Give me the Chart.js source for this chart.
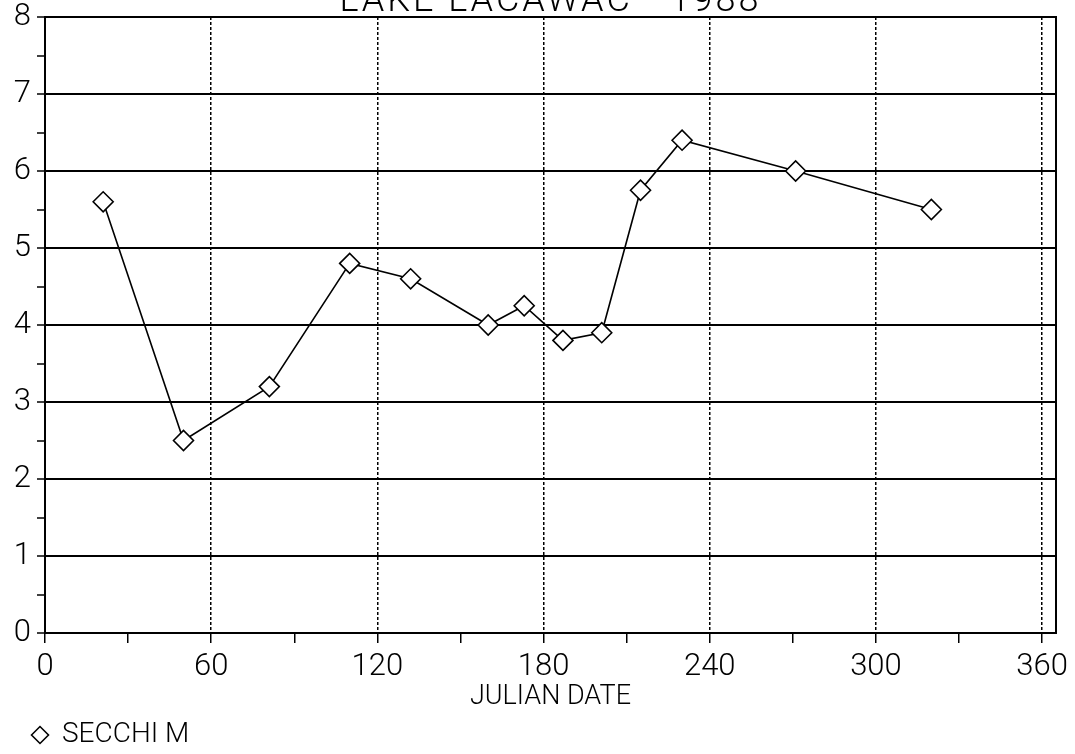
<!DOCTYPE html>
<html>
<head>
<meta charset="utf-8">
<script src="https://cdn.jsdelivr.net/npm/chart.js@4"></script>
<style>
  html, body { margin: 0; padding: 0; background: #fff; }
  #wrap { width: 1075px; height: 754px; }
</style>
</head>
<body>
<div id="wrap"><canvas id="secchiChart" width="1075" height="754"></canvas></div>
<script>
// datos
const chartTitle = 'LAKE LACAWAC - 1988';
const julianDays = [21, 50, 81, 110, 132, 160, 173, 187, 201, 215, 230, 271, 320];
const secchiM = [5.6, 2.5, 3.2, 4.8, 4.6, 4.0, 4.25, 3.8, 3.9, 5.75, 6.4, 6.0, 5.5];
const seriesLabel = 'SECCHI M';
const xAxisLabel = 'JULIAN DATE';

const fontFamily = 'Roboto, "Liberation Sans", Arial, sans-serif';
const fontWeight = 300;
const bottomShift = -5; // la leyenda queda un poco más abajo

// título cortado arriba y marco del área
const framePlugin = {
    id: 'frame',
    beforeDatasetsDraw(chart) {
        const { ctx, chartArea } = chart;
        ctx.save();
        ctx.strokeStyle = '#000';
        ctx.lineWidth = 2;
        ctx.strokeRect(chartArea.left, chartArea.top, chartArea.right - chartArea.left, chartArea.bottom - chartArea.top);
        ctx.restore();
    },
    afterDraw(chart) {
        const { ctx, chartArea } = chart;
        ctx.save();
        ctx.fillStyle = '#000';
        ctx.font = fontWeight + ' 36px ' + fontFamily;
        ctx.letterSpacing = '3px';
        ctx.textAlign = 'center';
        ctx.textBaseline = 'alphabetic';
        ctx.fillText(chartTitle, (chartArea.left + chartArea.right) / 2, 11);
        ctx.restore();
    }
};

const ctx = document.getElementById('secchiChart').getContext('2d');
new Chart(ctx, {
    type: 'line',
    data: {
        datasets: [{
            label: seriesLabel,
            data: julianDays.map((d, i) => ({ x: d, y: secchiM[i] })),
            borderColor: '#000',
            borderWidth: 1.6,
            backgroundColor: '#fff',
            pointStyle: 'rectRot',
            pointRadius: 10,
            pointBorderWidth: 1.6,
            pointBackgroundColor: '#fff',
            pointBorderColor: '#000',
            tension: 0
        }]
    },
    options: {
        responsive: false,
        animation: false,
        layout: { padding: { top: 17, right: 19, left: 0, bottom: bottomShift } },
        plugins: {
            legend: {
                display: true,
                position: 'bottom',
                align: 'start',
                labels: {
                    usePointStyle: true,
                    boxHeight: 12,
                    boxWidth: 16,
                    padding: 32,
                    color: '#000',
                    font: { family: fontFamily, size: 28, weight: fontWeight }
                }
            },
            tooltip: { enabled: false }
        },
        scales: {
            x: {
                type: 'linear',
                min: 0,
                max: 365,
                border: { display: true, color: '#000', width: 2, dash: [3, 2] },
                grid: {
                    color: c => (c.tick && c.tick.value % 60 === 0 && c.tick.value > 0) ? '#000' : 'transparent',
                    tickColor: '#000',
                    lineWidth: 1.5,
                    tickLength: 10,
                    tickWidth: 1.5
                },
                ticks: {
                    stepSize: 30,
                    includeBounds: false,
                    autoSkip: false,
                    maxRotation: 0,
                    padding: 6,
                    color: '#000',
                    font: { family: fontFamily, size: 31, weight: fontWeight },
                    callback: v => (v % 60 === 0 ? String(v) : '')
                },
                title: {
                    display: true,
                    text: xAxisLabel,
                    color: '#000',
                    font: { family: fontFamily, size: 27, weight: fontWeight },
                    padding: { top: 0, bottom: -29 - bottomShift }
                },
                afterFit(s) {
                    const legendH = s.chart.legend ? s.chart.legend.height : 0;
                    s.height = 754 - bottomShift - 633 - legendH;
                    s.paddingLeft = 0;
                    s.paddingRight = 0;
                }
            },
            y: {
                type: 'linear',
                min: 0,
                max: 8,
                border: { display: true, color: '#000', width: 2 },
                grid: {
                    color: c => (c.tick && c.tick.value % 1 === 0) ? '#000' : 'transparent',
                    tickColor: '#000',
                    lineWidth: 2,
                    tickLength: 8,
                    tickWidth: 1.5
                },
                ticks: {
                    stepSize: 0.5,
                    autoSkip: false,
                    padding: 6,
                    color: '#000',
                    font: { family: fontFamily, size: 31, weight: fontWeight },
                    callback: v => (v % 1 === 0 ? String(v) : '')
                },
                afterFit(s) {
                    s.width = 45;
                    s.paddingTop = 0;
                    s.paddingBottom = 0;
                }
            }
        }
    },
    plugins: [framePlugin]
});
</script>
</body>
</html>
